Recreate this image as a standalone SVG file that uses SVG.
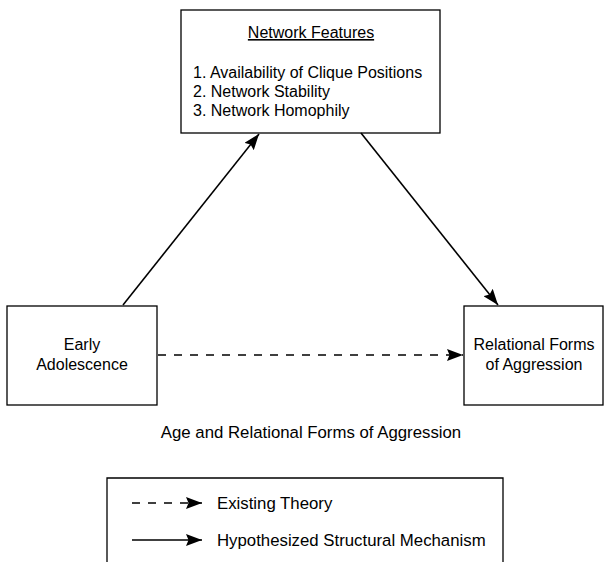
<svg xmlns="http://www.w3.org/2000/svg" width="605" height="562" viewBox="0 0 605 562">
<defs>
<style>
text{font-family:"Liberation Sans",Arial,sans-serif;font-size:16px;fill:#000}
.lg{font-size:16.8px}
.box{fill:#fff;stroke:#000;stroke-width:1.3}
.c{stroke:#000;stroke-width:1.6;fill:none}
.d{stroke-dasharray:8,8}
</style>
<marker id="ahl" viewBox="0 0 16 12" refX="16" refY="6" markerWidth="16" markerHeight="12" markerUnits="userSpaceOnUse" orient="auto"><path d="M0,0 L16,6 L0,12 L2.5,6 z" fill="#000"/></marker>
</defs>
<rect width="605" height="562" fill="#fff"/>
<g id="network-features">
<rect class="box" x="181" y="10" width="259" height="123"/>
<text x="311" y="38" text-anchor="middle" text-decoration="underline">Network Features</text>
<text x="193" y="78">1. Availability of Clique Positions</text>
<text x="193" y="97">2. Network Stability</text>
<text x="193" y="116">3. Network Homophily</text>
</g>
<g id="early-adolescence">
<rect class="box" x="7" y="306" width="150" height="99"/>
<text x="82" y="350" text-anchor="middle">Early</text>
<text x="82" y="370" text-anchor="middle">Adolescence</text>
</g>
<g id="relational-aggression">
<rect class="box" x="464" y="306" width="139" height="99"/>
<text x="534" y="350" text-anchor="middle">Relational Forms</text>
<text x="534" y="370" text-anchor="middle">of Aggression</text>
</g>
<g id="connectors">
<line class="c" x1="123" y1="305" x2="259" y2="134" marker-end="url(#ahl)"/>
<line class="c" x1="361" y1="133" x2="498" y2="305" marker-end="url(#ahl)"/>
<line class="c d" x1="158" y1="355" x2="463" y2="355" marker-end="url(#ahl)"/>
</g>
<text class="lg" x="311" y="438" text-anchor="middle">Age and Relational Forms of Aggression</text>
<g id="legend">
<path class="box" d="M107,562 V478 H503 V562" fill="none"/>
<line class="c d" x1="132" y1="503" x2="202" y2="503" marker-end="url(#ahl)"/>
<line class="c" x1="132" y1="540" x2="202" y2="540" marker-end="url(#ahl)"/>
<text class="lg" x="217" y="509">Existing Theory</text>
<text class="lg" x="217" y="546">Hypothesized Structural Mechanism</text>
</g>
</svg>
